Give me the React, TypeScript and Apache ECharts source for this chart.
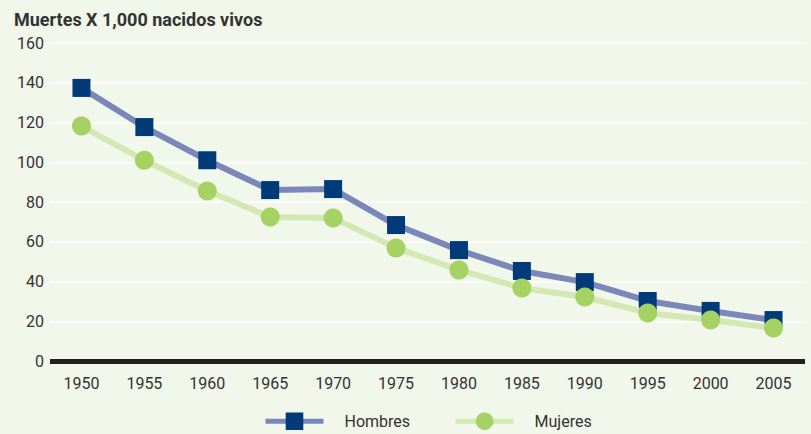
import React, { useEffect, useRef } from "react";
import * as echarts from "echarts";

const years = ["1950", "1955", "1960", "1965", "1970", "1975", "1980", "1985", "1990", "1995", "2000", "2005"];
const hombres = [137.4, 117.7, 101, 86, 86.5, 68.4, 55.8, 45.3, 39.7, 30.2, 25.2, 20.6];
const mujeres = [118.2, 101, 85.5, 72.5, 72, 56.9, 45.8, 36.7, 32.2, 24.2, 20.6, 16.6];
const yTicks = [0, 20, 40, 60, 80, 100, 120, 140, 160];

const FONT = "Roboto, 'Liberation Sans', sans-serif";

export default function App() {
  const ref = useRef<HTMLDivElement>(null);
  useEffect(() => {
    const chart = echarts.init(ref.current!, null, { renderer: "svg" });
    chart.setOption({
      animation: false,
      backgroundColor: "#f2f7ec",
      title: {
        text: "Muertes X 1,000 nacidos vivos",
        left: 9,
        top: 5,
        textStyle: { fontFamily: FONT, fontSize: 18, fontWeight: "bold", color: "#333333" },
      },
      grid: { left: 50, right: 6, top: 43, bottom: 73 },
      legend: {
        bottom: -1,
        left: 258,
        itemWidth: 58,
        itemHeight: 22,
        itemGap: 43,
        lineStyle: { width: 5 },
        textStyle: { fontFamily: FONT, fontSize: 16, color: "#333333", padding: [0, 0, 0, 16] },
        data: ["Hombres", "Mujeres"],
      },
      xAxis: {
        type: "category",
        data: years,
        boundaryGap: true,
        axisLine: { show: false },
        axisTick: { show: false },
        axisLabel: { fontFamily: FONT, fontSize: 16, color: "#333333", margin: 14 },
      },
      yAxis: {
        type: "value",
        min: yTicks[0],
        max: yTicks[yTicks.length - 1],
        interval: 20,
        axisLine: { show: false },
        axisTick: { show: false },
        axisLabel: { fontFamily: FONT, fontSize: 16, color: "#333333", margin: 6 },
        splitLine: { lineStyle: { color: "#ffffff", width: 1.5 } },
      },
      series: [
        {
          name: "Hombres",
          type: "line",
          data: hombres,
          symbol: "rect",
          symbolSize: 18,
          lineStyle: { color: "#7b87b8", width: 6 },
          itemStyle: { color: "#003a78" },
          z: 3,
          markLine: {
            silent: true,
            symbol: "none",
            label: { show: false },
            lineStyle: { color: "#231f20", width: 5, type: "solid" },
            data: [{ yAxis: 0 }],
          },
        },
        {
          name: "Mujeres",
          type: "line",
          data: mujeres,
          symbol: "circle",
          symbolSize: 19,
          lineStyle: { color: "#d4e8b4", width: 6 },
          itemStyle: { color: "#a6d163" },
          z: 4,
        },
      ],
    });
    return () => chart.dispose();
  }, []);
  return <div ref={ref} style={{ width: 811, height: 434, position: "absolute", left: 0, top: 0 }} />;
}
